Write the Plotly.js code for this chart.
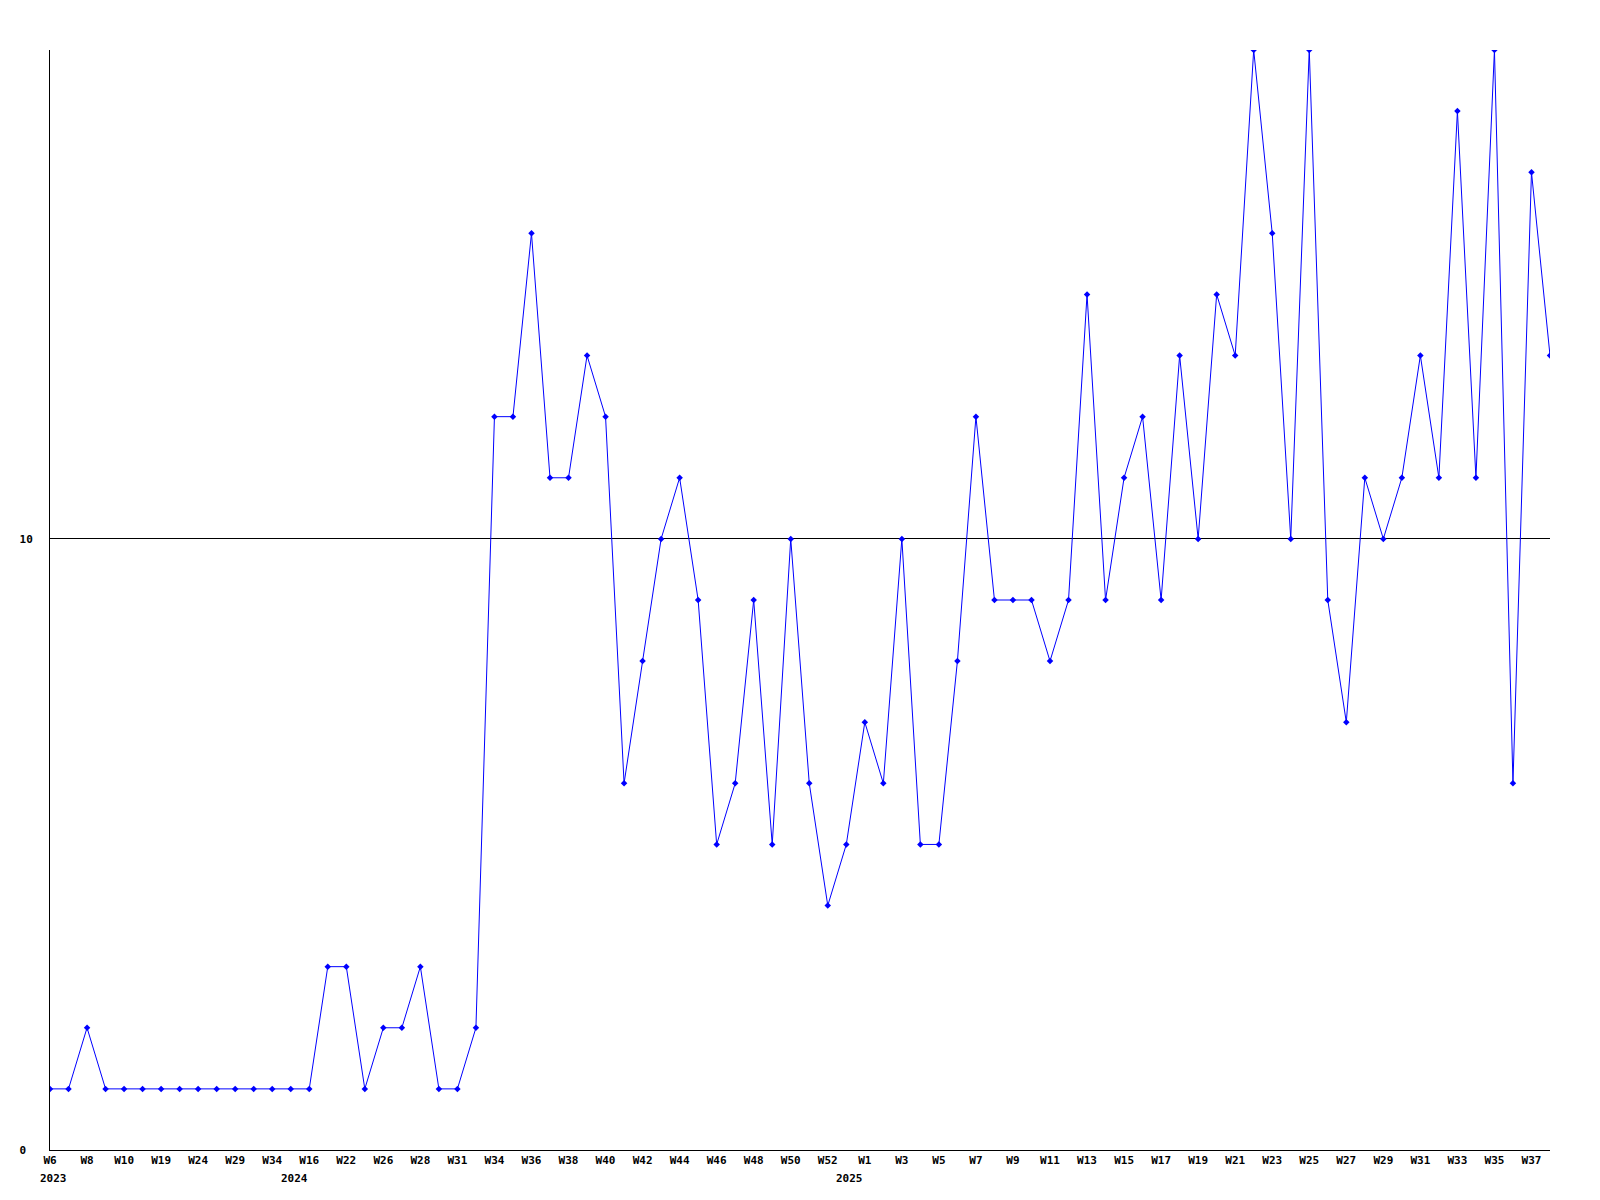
<!DOCTYPE html>
<html>
<head>
<meta charset="utf-8">
<script src="https://cdn.plot.ly/plotly-3.0.1.min.js"></script>
<style>html,body{margin:0;padding:0;background:#fff;}#chart{width:1600px;height:1200px;}</style>
</head>
<body>
<div id="chart"></div>
<script>
// Week labels (one per point) and the year each belongs to
const weeks = [
  "W6","W7","W8","W9","W10","W12","W19","W21","W24","W26","W29","W31","W34","W40",
  "W16","W19","W22","W24","W26","W27","W28","W30","W31","W33","W34","W35","W36","W37","W38","W39",
  "W40","W41","W42","W43","W44","W45","W46","W47","W48","W49","W50","W51","W52","W53",
  "W1","W2","W3","W4","W5","W6","W7","W8","W9","W10","W11","W12","W13","W14","W15","W16",
  "W17","W18","W19","W20","W21","W22","W23","W24","W25","W26","W27","W28","W29","W30",
  "W31","W32","W33","W34","W35","W36","W37","W38"
];
const years = [
  2023,2023,2023,2023,2023,2023,2023,2023,2023,2023,2023,2023,2023,2023,
  2024,2024,2024,2024,2024,2024,2024,2024,2024,2024,2024,2024,2024,2024,2024,2024,
  2024,2024,2024,2024,2024,2024,2024,2024,2024,2024,2024,2024,2024,2024,
  2025,2025,2025,2025,2025,2025,2025,2025,2025,2025,2025,2025,2025,2025,2025,2025,
  2025,2025,2025,2025,2025,2025,2025,2025,2025,2025,2025,2025,2025,2025,
  2025,2025,2025,2025,2025,2025,2025,2025
];
const values = [
  1,1,2,1,1,1,1,1,1,1,1,1,1,1,
  1,3,3,1,2,2,3,1,1,2,12,12,15,11,11,13,
  12,6,8,10,11,9,5,6,9,5,10,6,4,5,
  7,6,10,5,5,8,12,9,9,9,8,9,14,9,11,12,
  9,13,10,14,13,18,15,10,18,9,7,11,10,11,
  13,11,17,11,18,6,16,13
];
const yTicks = [0, 10];

const xIdx = values.map((v, i) => i);
const tickvals = [], ticktext = [];
const yearAnn = [];
const shownYears = {};
for (let i = 0; i < weeks.length; i += 2) {
  tickvals.push(i);
  ticktext.push(weeks[i]);
  if (!shownYears[years[i]]) {
    shownYears[years[i]] = true;
    yearAnn.push({i: i, year: years[i]});
  }
}

const font = {family: "DejaVu Sans Mono, monospace", size: 11, color: "#000", weight: "bold"};

const annotations = yearAnn.map((a, k) => ({
  x: a.i, xref: "x", y: 0, yref: "paper",
  text: String(a.year), showarrow: false,
  xanchor: "center", yanchor: "top",
  xshift: k === 0 ? 3 : -15, yshift: -20,
  font: font
}));

Plotly.newPlot("chart", [{
  x: xIdx,
  y: values,
  type: "scatter",
  mode: "lines+markers",
  line: {color: "#0000ff", width: 1},
  marker: {color: "#0000ff", size: 5, symbol: "diamond"},
  hoverinfo: "y"
}], {
  width: 1600, height: 1200,
  margin: {l: 50, r: 50, t: 50, b: 50},
  paper_bgcolor: "#fff", plot_bgcolor: "#fff",
  showlegend: false,
  font: font,
  annotations: annotations,
  xaxis: {
    range: [0, values.length - 1],
    tickmode: "array", tickvals: tickvals, ticktext: ticktext,
    showgrid: false, zeroline: false,
    showline: true, linecolor: "#000", linewidth: 1,
    ticks: "", tickangle: 0, tickfont: font
  },
  yaxis: {
    range: [0, 18],
    tickmode: "array", tickvals: yTicks, ticktext: ["0\u00a0", "10"],
    showgrid: true, gridcolor: "#000", gridwidth: 1,
    zeroline: false,
    showline: true, linecolor: "#000", linewidth: 1,
    ticks: "", ticklabelstandoff: 14, tickfont: font
  }
}, {staticPlot: true});
</script>
</body>
</html>
